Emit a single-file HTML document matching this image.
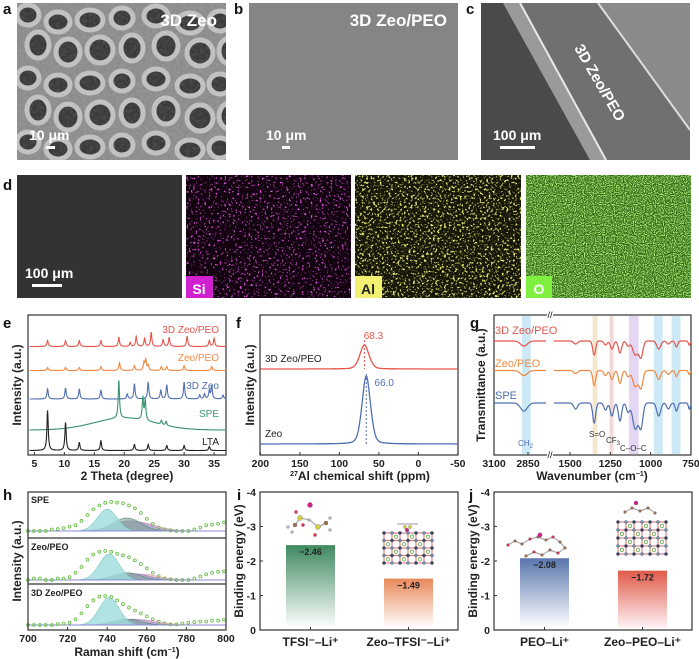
<!DOCTYPE html>
<html><head><meta charset="utf-8"><style>
html,body{margin:0;padding:0;background:#fff;}
svg{display:block;font-family:"Liberation Sans",Arial,sans-serif;}
.pl{font-weight:bold;font-size:15px;fill:#111;}
.tk{font-weight:bold;font-size:10.5px;fill:#222;}
.ax{font-weight:bold;font-size:12px;fill:#222;}
</style></head><body>
<svg id="fig" width="699" height="659" viewBox="0 0 699 659" xmlns="http://www.w3.org/2000/svg">
<defs>
<filter id="nMag" x="0" y="0" width="1" height="1"><feTurbulence type="fractalNoise" baseFrequency="0.45" numOctaves="2" seed="3"/><feColorMatrix type="matrix" values="0 0 0 0 0.8 0 0 0 0 0.1 0 0 0 0 0.8 6 0 0 0 -3.6"/></filter>
<filter id="nYel" x="0" y="0" width="1" height="1"><feTurbulence type="fractalNoise" baseFrequency="0.45" numOctaves="2" seed="7"/><feColorMatrix type="matrix" values="0 0 0 0 0.9 0 0 0 0 0.88 0 0 0 0 0.2 6 0 0 0 -3.3"/></filter>
<filter id="nGrn" x="0" y="0" width="1" height="1"><feTurbulence type="fractalNoise" baseFrequency="0.9" numOctaves="1" seed="11"/><feColorMatrix type="matrix" values="0 0 0 0 0.45 0 0 0 0 0.85 0 0 0 0 0.2 5 0 0 0 -2.2"/></filter>
<filter id="nGry" x="0" y="0" width="1" height="1"><feTurbulence type="fractalNoise" baseFrequency="0.3" numOctaves="3" seed="5"/><feColorMatrix type="matrix" values="0 0 0 0 0.9 0 0 0 0 0.9 0 0 0 0 0.9 0.6 0 0 0 -0.2"/></filter>
<linearGradient id="gGreen" x1="0" y1="0" x2="0" y2="1"><stop offset="0" stop-color="#3f8a60"/><stop offset="1" stop-color="#fff"/></linearGradient>
<linearGradient id="gOrange" x1="0" y1="0" x2="0" y2="1"><stop offset="0" stop-color="#e8895a"/><stop offset="1" stop-color="#fff"/></linearGradient>
<linearGradient id="gBlue" x1="0" y1="0" x2="0" y2="1"><stop offset="0" stop-color="#5a76ad"/><stop offset="1" stop-color="#fff"/></linearGradient>
<linearGradient id="gRed" x1="0" y1="0" x2="0" y2="1"><stop offset="0" stop-color="#e05a48"/><stop offset="1" stop-color="#fdf3f5"/></linearGradient>
</defs>

<!-- Row 1 SEM -->
<g>
<rect x="17" y="3" width="209" height="157" fill="#8c8c8c"/>
<g id="foam"></g>
<rect x="17" y="3" width="209" height="157" fill="#000" filter="url(#nGry)" opacity="0.35"/>
<text x="217" y="26" text-anchor="end" font-size="17" font-weight="bold" fill="#fff">3D Zeo</text>
<text x="29" y="140" font-size="14" font-weight="bold" fill="#fff">10 μm</text>
<rect x="46" y="146" width="9" height="3" fill="#fff"/>
</g>
<text class="pl" x="3" y="14">a</text>
<text class="pl" x="234" y="14">b</text>
<g>
<rect x="249" y="3" width="209" height="157" fill="#858585"/>
<text x="447" y="26" text-anchor="end" font-size="17" font-weight="bold" fill="#fff">3D Zeo/PEO</text>
<text x="266" y="140" font-size="14" font-weight="bold" fill="#fff">10 μm</text>
<rect x="282" y="146" width="8" height="3" fill="#fff"/>
</g>
<text class="pl" x="466" y="14">c</text>
<g>
<rect x="481" y="3" width="209" height="157" fill="#6e6e6e"/>
<polygon points="481,3 503,3 590,160 481,160" fill="#4a4a4a"/>
<polygon points="503,3 520,3 606,160 590,160" fill="#9a9a9a"/>
<polygon points="520,3 598,3 690,130 690,160 606,160" fill="#707070"/>
<polygon points="598,3 690,3 690,130" fill="#8a8a8a"/>
<line x1="598" y1="3" x2="690" y2="130" stroke="#ddd" stroke-width="2"/>
<line x1="520" y1="3" x2="606" y2="160" stroke="#e8e8e8" stroke-width="2"/>
<text transform="translate(574,48) rotate(60)" font-size="15" font-weight="bold" fill="#fff">3D Zeo/PEO</text>
<text x="493" y="140" font-size="14" font-weight="bold" fill="#fff">100 μm</text>
<rect x="500" y="146" width="35" height="3" fill="#fff"/>
</g>

<!-- Row 2 EDS -->
<text class="pl" x="3" y="190">d</text>
<g>
<rect x="17" y="175" width="165" height="123" fill="#333"/>
<text x="25" y="278" font-size="14" font-weight="bold" fill="#fff">100 μm</text>
<rect x="32" y="284" width="30" height="3" fill="#fff"/>
</g>
<g>
<rect x="186" y="175" width="165" height="123" fill="#12020f"/>
<rect x="186" y="175" width="165" height="123" filter="url(#nMag)"/>
<rect x="186" y="276" width="27" height="22" fill="#d020d0"/>
<text x="199" y="294" text-anchor="middle" font-size="14" font-weight="bold" fill="#fff">Si</text>
</g>
<g>
<rect x="355" y="175" width="166" height="123" fill="#151508"/>
<rect x="355" y="175" width="166" height="123" filter="url(#nYel)"/>
<rect x="355" y="276" width="27" height="22" fill="#f2f070"/>
<text x="368" y="294" text-anchor="middle" font-size="14" font-weight="bold" fill="#222">Al</text>
</g>
<g>
<rect x="526" y="175" width="165" height="123" fill="#2e6a14"/>
<rect x="526" y="175" width="165" height="123" filter="url(#nGrn)"/>
<rect x="526" y="276" width="26" height="22" fill="#80f040"/>
<text x="539" y="294" text-anchor="middle" font-size="14" font-weight="bold" fill="#fff">O</text>
</g>

<text class="pl" x="3" y="328">e</text>
<text class="pl" x="236" y="328">f</text>
<text class="pl" x="470" y="328">g</text>
<text class="pl" x="3" y="500">h</text>
<text class="pl" x="237" y="500">i</text>
<text class="pl" x="469" y="500">j</text>
<g id="charts"></g>
</svg>
<script>
// ---------- data ----------
var xrdTicks=[5,10,15,20,25,30,35];
var xrdLTA=[[7.2,40],[10.2,28],[12.5,8],[16.1,10],[21.7,6],[24.0,6],[27.1,5],[30.0,5],[34.2,4]];
var xrdZeo=[[7.2,10],[10.2,11],[12.5,10],[16.1,9],[20.5,5],[21.7,15],[24.0,17],[26.1,9],[27.1,14],[30.0,17],[32.6,4],[33.4,5],[34.2,8],[34.6,13],[36.5,4]];
var xrdZeoPEO=[[7.2,3],[10.2,3],[12.5,3],[16.1,4],[19.2,8],[21.7,5],[23.3,8],[23.6,10],[24.0,5],[26.2,4],[27.1,4],[30.0,5],[34.6,4]];
var xrd3D=[[7.2,6],[10.2,6],[12.5,6],[16.1,6],[19.1,9],[21.0,4],[22.0,10],[23.4,8],[24.5,14],[26.5,7],[27.5,9],[30.5,10],[34.2,6],[35.0,8]];
var xrdSPE=[[19.1,38],[23.1,22],[23.5,20],[26.2,4],[27.0,4]];
var xrdSPEhump=[[20,12,5]];
var nmrTicks=[200,150,100,50,0,-50];
var nmr3D=[[68.3,24,6]];
var nmrZeo=[[66.0,68,5.5]];
var irTicks=[3100,2850,1500,1250,1000,750];
var irSPE=[[2880,8,25],[1465,6,12],[1350,20,9],[1280,7,10],[1240,13,10],[1190,18,10],[1140,9,10],[1095,26,16],[1060,24,12],[950,13,12],[890,6,10],[840,8,8],[760,6,6]];
var irZeoPEO=[[2880,5,25],[1465,3,12],[1350,15,9],[1280,5,10],[1240,9,10],[1190,13,10],[1140,6,10],[1095,16,16],[1060,17,12],[950,9,12],[890,4,10],[840,6,8],[760,4,6]];
var ir3D=[[2880,5,25],[1465,3,12],[1350,14,9],[1280,4,10],[1240,8,10],[1190,12,10],[1140,5,10],[1095,14,16],[1060,16,12],[950,8,12],[890,3,10],[840,6,8],[760,4,6]];
var ramanTicks=[700,720,740,760,780,800];
var ramanX=[700,703,706,709,712,715,718,721,724,727,730,733,736,739,742,745,748,751,754,757,760,763,766,769,772,775,778,781,784,787,790,793,796,799];
var ramanSPE=[0,0,0,0,0.05,0.07,0.1,0.15,0.2,0.35,0.55,0.75,0.88,0.97,1.0,0.98,0.95,0.88,0.78,0.62,0.42,0.25,0.12,0.05,0.02,0,0,0,0.05,0.12,0.2,0.22,0.25,0.3];
var ramanZeoPEO=[0,0.05,0.05,0,0,0.05,0.05,0.1,0.25,0.45,0.7,0.88,0.97,1.0,0.97,0.9,0.85,0.78,0.68,0.55,0.4,0.25,0.13,0.06,0.02,0,0,0,0.05,0.12,0.2,0.25,0.28,0.3];
var raman3D=[0,0,0,0,0,0.03,0.05,0.08,0.2,0.4,0.65,0.85,0.98,1.0,0.97,0.85,0.72,0.6,0.5,0.4,0.3,0.2,0.12,0.06,0.02,0.02,0.05,0.08,0.1,0.12,0.12,0.15,0.15,0.18];
var fitSPE=[[756,0.3,9],[752,0.35,9],[750,0.45,7],[740,0.75,5]];
var fitZeoPEO=[[757,0.2,9],[753,0.22,8],[750,0.25,7],[741,0.9,5]];
var fit3D=[[757,0.18,9],[753,0.2,8],[750,0.2,7],[741,0.95,5]];
var beTicks=[-4,-3,-2,-1,0];
var beCatsI=["TFSI⁻–Li⁺","Zeo–TFSI⁻–Li⁺"];
var beValsI=[-2.46,-1.49];
var beCatsJ=["PEO–Li⁺","Zeo–PEO–Li⁺"];
var beValsJ=[-2.08,-1.72];

// ---------- helpers ----------
var NS="http://www.w3.org/2000/svg";
var root=document.getElementById('charts');
function mk(tag,attrs,parent){var e=document.createElementNS(NS,tag);for(var k in attrs)e.setAttribute(k,attrs[k]);(parent||root).appendChild(e);return e;}
function txt(s,x,y,cls,anchor,extra,parent){var a={x:x,y:y,'text-anchor':anchor||'middle'};if(cls!==undefined&&cls!=='')a['class']=cls;else if(cls===undefined)a['class']='tk';var t=mk('text',Object.assign(a,extra||{}),parent);t.textContent=s;return t;}
function frame(x0,y0,x1,y1){mk('rect',{x:x0,y:y0,width:x1-x0,height:y1-y0,fill:'none',stroke:'#333','stroke-width':1.2});}

// decorative foam (panel a)
(function(){var g=document.getElementById('foam');var cols=[28,58,90,122,156,190,220],rows=[15,45,78,110,142];
for(var r=0;r<rows.length;r++)for(var c=0;c<cols.length;c++){var cx=cols[c]+(r%2)*10,cy=rows[r]+((c*7)%9);
var e=document.createElementNS(NS,'ellipse');e.setAttribute('cx',cx);e.setAttribute('cy',cy);e.setAttribute('rx',11+(c%3));e.setAttribute('ry',10+(r%2)*3);
e.setAttribute('fill','#3a3a3a');e.setAttribute('stroke','#c0c0c0');e.setAttribute('stroke-width','5');g.appendChild(e);}
[[0,0,17,165],[226,0,20,165],[17,160,212,12],[17,0,212,3]].forEach(function(q){var cl=document.createElementNS(NS,'rect');cl.setAttribute('x',q[0]);cl.setAttribute('y',q[1]);cl.setAttribute('width',q[2]);cl.setAttribute('height',q[3]);cl.setAttribute('fill','#fff');g.appendChild(cl);});})();

// ---------- e: XRD ----------
(function(){
var x0=28,x1=226,y0=315,y1=455;
var X=function(v){return 34.4+(v-5)*5.99;};
frame(x0,y0,x1,y1);
xrdTicks.forEach(function(t){mk('line',{x1:X(t),y1:y1,x2:X(t),y2:y1-3,stroke:'#333'});var l=txt(t,X(t),467);
});
function curve(peaks,base,color,name,hump){var d='';for(var v=4.2;v<=37;v+=0.04){var y=0;peaks.forEach(function(p){var dx=(v-p[0])/0.13;y+=p[1]/(1+dx*dx);});
if(hump)hump.forEach(function(h){y+=h[1]*Math.exp(-Math.pow((v-h[0])/h[2],2)/2);});
d+=(d?'L':'M')+X(v).toFixed(1)+','+(base-y).toFixed(1);}
var p=mk('path',{d:d,fill:'none',stroke:color,'stroke-width':1.1});}
curve(xrd3D,346.5,'#e5554c','xrd-3d-zeo-peo');
curve(xrdZeoPEO,370.5,'#ee8a45','xrd-zeo-peo');
curve(xrdZeo,399,'#4f6fb0','xrd-3d-zeo');
curve(xrdSPE,430,'#3a9470','xrd-spe',xrdSPEhump);
curve(xrdLTA,450.5,'#222','xrd-lta');
var L=[['3D Zeo/PEO',333,'#e5554c'],['Zeo/PEO',361,'#ee8a45'],['3D Zeo',389,'#4f6fb0'],['SPE',417,'#3a9470'],['LTA',445,'#222']];
L.forEach(function(l){var t=txt(l[0],219,l[1],'','end',{'font-size':10,fill:l[2]});});
var a=txt('2 Theta (degree)',127,480,'ax');
var b=txt('Intensity (a.u.)',0,0,'ax','middle',{transform:'translate(21,385) rotate(-90)'});
})();

// ---------- f: NMR ----------
(function(){
var x0=260,x1=458,y0=315,y1=455;
var X=function(v){return 260.4+(200-v)*0.79;};
frame(x0,y0,x1,y1);
nmrTicks.forEach(function(t){mk('line',{x1:X(t),y1:y1,x2:X(t),y2:y1-3,stroke:'#333'});var l=txt(t,X(t),467);});
function curve(pk,base,color,name){var d='';for(var v=200;v>=-50;v-=0.5){var y=0;pk.forEach(function(p){var dx=(v-p[0])/p[2];y+=p[1]*Math.exp(-dx*dx/2)*0.7+p[1]*0.3/(1+dx*dx);});
d+=(d?'L':'M')+X(v).toFixed(1)+','+(base-y).toFixed(1);}
var p=mk('path',{d:d,fill:'none',stroke:color,'stroke-width':1.3});}
curve(nmr3D,369,'#e5554c','nmr-3d-zeo-peo');curve(nmrZeo,444,'#4f6fb0','nmr-zeo');
mk('line',{x1:X(nmr3D[0][0]),y1:340,x2:X(nmr3D[0][0]),y2:369,stroke:'#e5554c','stroke-dasharray':'2,2'});
mk('line',{x1:X(nmrZeo[0][0]),y1:374,x2:X(nmrZeo[0][0]),y2:444,stroke:'#4f6fb0','stroke-dasharray':'2,2'});
var t1=txt(nmr3D[0][0].toFixed(1),X(nmr3D[0][0])+9,339,'','middle',{'font-size':10,fill:'#e5554c'});
var t2=txt(nmrZeo[0][0].toFixed(1),X(nmrZeo[0][0])+18,386,'','middle',{'font-size':10,fill:'#4f6fb0'});
var a=txt('3D Zeo/PEO',265,362,'','start',{'font-size':10,fill:'#222'});
var b=txt('Zeo',265,437,'','start',{'font-size':10,fill:'#222'});
var c=mk('text',{x:360,y:480,'class':'ax','text-anchor':'middle'});c.innerHTML='<tspan font-size="7" dy="-4">27</tspan><tspan dy="4">Al chemical shift (ppm)</tspan>';

var d=txt('Intensity (a.u.)',0,0,'ax','middle',{transform:'translate(254,385) rotate(-90)'});
})();

// ---------- g: FTIR ----------
(function(){
var x0=494,x1=691,y0=315,y1=455;
var X=function(v){return v>=1700?494+(3100-v)*0.136:570+(1500-v)*0.1613;};
var bands=[[2895,2830,'#cde9f5'],[1360,1330,'#f5e6cf'],[1255,1230,'#f1d9d9'],[1135,1075,'#e4d6f2'],[980,925,'#cde9f5'],[870,815,'#cde9f5']];
bands.forEach(function(b){var r=mk('rect',{x:X(b[0]),y:y0+1,width:X(b[1])-X(b[0]),height:y1-y0-2,fill:b[2]});});
frame(x0,y0,x1,y1);
mk('rect',{x:547,y:y0-3,width:6,height:6,fill:'#fff'});mk('rect',{x:547,y:y1-3,width:6,height:6,fill:'#fff'});
txt('//',550,y0+3,'','middle',{'font-size':9});txt('//',550,y1+3,'','middle',{'font-size':9});
irTicks.forEach(function(t){mk('line',{x1:X(t),y1:y1,x2:X(t),y2:y1-3,stroke:'#333'});var l=txt(t,X(t),467);});
function curve(dips,base,color,name){var segs=[[3100,2718],[1600,750]];var d='';
segs.forEach(function(s){var first=true;for(var v=s[0];v>=s[1];v-=2){var y=0;dips.forEach(function(p){var dx=(v-p[0])/p[2];y+=p[1]*Math.exp(-dx*dx/2);});
d+=(first?'M':'L')+X(v).toFixed(1)+','+(base+y).toFixed(1);first=false;}});
var p=mk('path',{d:d,fill:'none',stroke:color,'stroke-width':1.2});}
curve(ir3D,341,'#e5554c','ir-3d-zeo-peo');curve(irZeoPEO,370.5,'#ee8a45','ir-zeo-peo');curve(irSPE,403,'#4f6fb0','ir-spe');
[['3D Zeo/PEO',334,'#e5554c'],['Zeo/PEO',367,'#ee8a45'],['SPE',399,'#4f6fb0']].forEach(function(l){var t=txt(l[0],495,l[1],'','start',{'font-size':11,fill:l[2]});});
var c1=mk('text',{x:518,y:446,'font-size':8,fill:'#4f6fb0'});c1.innerHTML='CH<tspan font-size="6" dy="2">2</tspan>';
var c2=txt('S=O',589,437,'','start',{'font-size':8,fill:'#333'});
var c3=mk('text',{x:606,y:443,'font-size':8,fill:'#333'});c3.innerHTML='CF<tspan font-size="6" dy="2">3</tspan>';
var c4=txt('C–O–C',620,451,'','start',{'font-size':8,fill:'#333'});
var a=mk('text',{x:592,y:480,'class':'ax','text-anchor':'middle'});a.innerHTML='Wavenumber (cm<tspan font-size="7" dy="-4">−1</tspan><tspan dy="4">)</tspan>';
var b=txt('Transmittance (a.u.)',0,0,'ax','middle',{transform:'translate(485,385) rotate(-90)'});
})();

// ---------- h: Raman ----------
(function(){
var x0=28,x1=226,y0=492,y1=630;
var X=function(v){return 28+(v-700)*1.98;};
var panels=[[ramanSPE,fitSPE,531,'SPE',503],[ramanZeoPEO,fitZeoPEO,580,'Zeo/PEO',550],[raman3D,fit3D,625,'3D Zeo/PEO',596]];
var cols=['#f0c6c8','#b7a6de','#6f9a86','#9fdcdc'];
var colsStroke=['#e0a0a8','#9a86c8','#5a8a76','#7cc8c8'];
panels.forEach(function(P,pi){var base=P[2],H=29;
P[1].forEach(function(c,ci){var d='M'+X(700)+','+base;for(var v=700;v<=800;v+=1){var y=c[1]*H*Math.exp(-Math.pow((v-c[0])/c[2],2)/2);d+='L'+X(v).toFixed(1)+','+(base-y).toFixed(1);}d+='L'+X(800)+','+base+'Z';
var p=mk('path',{d:d,fill:cols[ci],'fill-opacity':ci==2?0.55:0.8,stroke:colsStroke[ci],'stroke-width':0.6});});
mk('line',{x1:x0,y1:base,x2:x1,y2:base,stroke:'#8a8ad8','stroke-width':1});
P[0].forEach(function(v,i){var c=mk('circle',{cx:X(ramanX[i]).toFixed(1),cy:(base-v*H).toFixed(1),r:1.4,fill:'none',stroke:'#6cbf4a','stroke-width':0.9});
});
var t=txt(P[3],31,P[4],'','start',{'font-size':9,'font-weight':'bold',fill:'#222'});});
frame(x0,y0,x1,y1);
mk('line',{x1:x0,y1:538,x2:x1,y2:538,stroke:'#333','stroke-width':1.2});mk('line',{x1:x0,y1:584,x2:x1,y2:584,stroke:'#333','stroke-width':1.2});
ramanTicks.forEach(function(t){mk('line',{x1:X(t),y1:y1,x2:X(t),y2:y1-3,stroke:'#333'});var l=txt(t,X(t),642);});
var a=mk('text',{x:127,y:656,'class':'ax','text-anchor':'middle'});a.innerHTML='Raman shift (cm<tspan font-size="7" dy="-4">−1</tspan><tspan dy="4">)</tspan>';
var b=txt('Intensity (a.u.)',0,0,'ax','middle',{transform:'translate(21,561) rotate(-90)'});
})();

// ---------- i, j: binding energy ----------
function bePanel(x0,cats,vals,grads,tag){
var x1=x0+198,y0=492,y1=630;
var Y=function(v){return y1+v*34.5;};
var bx=[x0+26,x0+124];
frame(x0,y0,x1,y1);
beTicks.forEach(function(t){mk('line',{x1:x0,y1:Y(t),x2:x0+3,y2:Y(t),stroke:'#333'});var l=txt(t,x0-4,Y(t)+4,'tk','end');});
vals.forEach(function(v,i){var r=mk('rect',{x:bx[i],y:Y(v),width:49,height:y1-Y(v)-2,fill:'url(#'+grads[i]+')'});

var t=txt(v.toFixed(2).replace('-','−'),bx[i]+24.5,Y(v)+10,'','middle',{'font-size':9,'font-weight':'bold',fill:'#222'});
mk('line',{x1:bx[i]+24.5,y1:y1,x2:bx[i]+24.5,y2:y1-3,stroke:'#333'});
var c=txt(cats[i],bx[i]+24.5,646,'ax','middle',{'font-size':11});});
var b=txt('Binding energy (eV)',0,0,'ax','middle',{transform:'translate('+(x0-17)+',561) rotate(-90)'});
return bx;}
var bxi=bePanel(260,beCatsI,beValsI,['gGreen','gOrange'],'be-i');
var bxj=bePanel(494,beCatsJ,beValsJ,['gBlue','gRed'],'be-j');

// molecule sketches (decorative)
function atom(x,y,r,c){mk('circle',{cx:x,cy:y,r:r,fill:c,stroke:'#555','stroke-width':0.3});}
function bond(a,b,c,d){mk('line',{x1:a,y1:b,x2:c,y2:d,stroke:'#999','stroke-width':1});}
(function(){bond(295,525,300,518);bond(300,518,310,520);bond(310,520,318,527);bond(318,527,326,523);
atom(310,505,2.5,'#d0208a');atom(300,518,2.5,'#d8d040');atom(318,527,2.5,'#d8d040');atom(295,525,2,'#a07050');atom(326,523,2,'#a07050');
atom(296,512,1.6,'#e03050');atom(303,525,1.6,'#e03050');atom(315,535,1.6,'#e03050');atom(288,527,1.4,'#b0b8d0');atom(292,532,1.4,'#b0b8d0');atom(330,530,1.4,'#b0b8d0');atom(330,518,1.4,'#b0b8d0');atom(309,520,1.4,'#b0b8d0');})();
function zeo(x0,y0,w,h){for(var i=0;i<=6;i++)for(var j=0;j<=4;j++){var x=x0+i*w/6,y=y0+j*h/4;
if(i<6)mk('line',{x1:x,y1:y,x2:x+w/6,y2:y,stroke:'#d04050','stroke-width':0.8});if(j<4)mk('line',{x1:x,y1:y,x2:x,y2:y+h/4,stroke:'#d04050','stroke-width':0.8});
atom(x,y,1.6,(i+j)%2?'#7090b0':'#304060');if(i<6&&j<4&&(i+j)%2)mk('circle',{cx:x+w/12,cy:y+h/8,r:1.7,fill:'none',stroke:'#60b040','stroke-width':0.8});}}
zeo(384,533,48,30);zeo(618,522,48,32);
(function(){atom(405,527,1.6,'#d8d040');atom(410,527,1.6,'#d8d040');atom(407,530,1.8,'#d0208a');bond(397,524,418,524);})();
(function(){var pts=[[508,545],[515,541],[522,544],[530,539],[538,537],[546,540],[553,537],[560,542],[565,548],[558,553],[550,550],[542,555],[534,552],[526,556]];
for(var k=1;k<pts.length;k++)bond(pts[k-1][0],pts[k-1][1],pts[k][0],pts[k][1]);pts.forEach(function(p,k){atom(p[0],p[1],1.4,k%3?'#a07050':'#e03050');});atom(540,535,2.2,'#d0208a');
var q=[[625,512],[632,508],[640,511],[648,508],[655,513]];for(var k=1;k<q.length;k++)bond(q[k-1][0],q[k-1][1],q[k][0],q[k][1]);q.forEach(function(p){atom(p[0],p[1],1.4,'#a07050');});atom(636,503,2,'#d0208a');})();
</script>
</body></html>
